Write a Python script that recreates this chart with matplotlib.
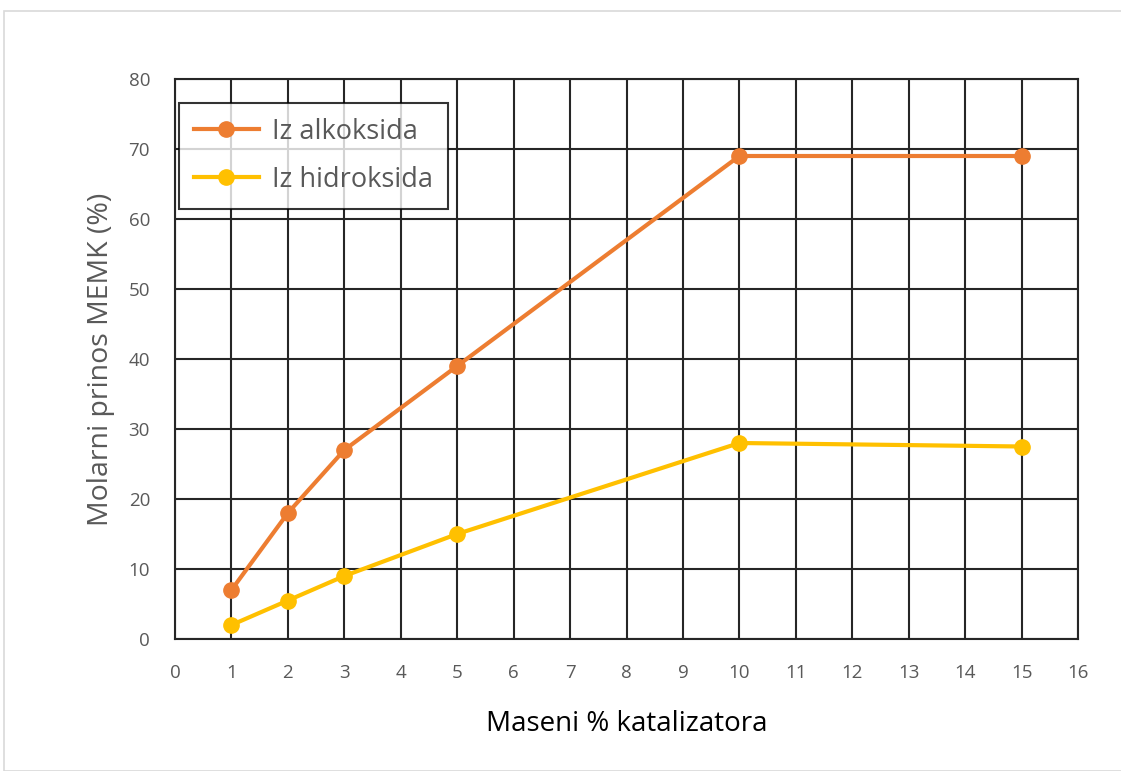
import matplotlib
matplotlib.use("Agg")
import matplotlib.pyplot as plt
from matplotlib.patches import Rectangle

# catalyst mass %
x_vals = [1, 2, 3, 5, 10, 15]
alkoksida = [7, 18, 27, 39, 69, 69]
hidroksida = [2, 5.5, 9, 15, 28, 27.5]
x_ticks = list(range(0, 17))
y_ticks = list(range(0, 81, 10))

plt.rcParams['font.family'] = ['Open Sans', 'DejaVu Sans']

fig = plt.figure(figsize=(11.21, 7.71), dpi=100)
ax = fig.add_axes([175/1121, 1 - 639/771, 903/1121, 560/771])

# outer chart frame
fig.patches.append(Rectangle((4/1121, 0), 1.2, 1 - 11/771, transform=fig.transFigure,
                             fill=False, edgecolor='#d9d9d9', linewidth=1.2))

ax.plot(x_vals, alkoksida, color='#ED7D31', lw=3, marker='o', ms=11, label='Iz alkoksida', zorder=3)
ax.plot(x_vals, hidroksida, color='#FFC000', lw=3, marker='o', ms=11, label='Iz hidroksida', zorder=3)

ax.set_xlim(0, 16)
ax.set_ylim(0, 80)
ax.set_xticks(x_ticks)
ax.set_yticks(y_ticks)
ax.grid(True, color='#262626', lw=1.5)
ax.set_axisbelow(True)
for s in ax.spines.values():
    s.set_color('#262626')
    s.set_linewidth(1.5)
ax.tick_params(length=0, labelsize=13.5, labelcolor='#595959')
ax.tick_params(axis='x', pad=18)
ax.tick_params(axis='y', pad=18)

ax.set_xlabel('Maseni % katalizatora', fontsize=20, labelpad=20)
ax.set_ylabel('Molarni prinos MEMK (%)', fontsize=20.5, color='#595959', labelpad=10)

leg = ax.legend(loc='upper left', bbox_to_anchor=(0.0, 0.965), fontsize=19.5, frameon=True,
                fancybox=False, edgecolor='black', handlelength=2.4, borderpad=0.55,
                labelspacing=0.75, borderaxespad=0.15, handletextpad=0.5)
leg.get_frame().set_linewidth(1.5)
for t in leg.get_texts():
    t.set_color('#595959')

fig.savefig('out.png', dpi=100)
